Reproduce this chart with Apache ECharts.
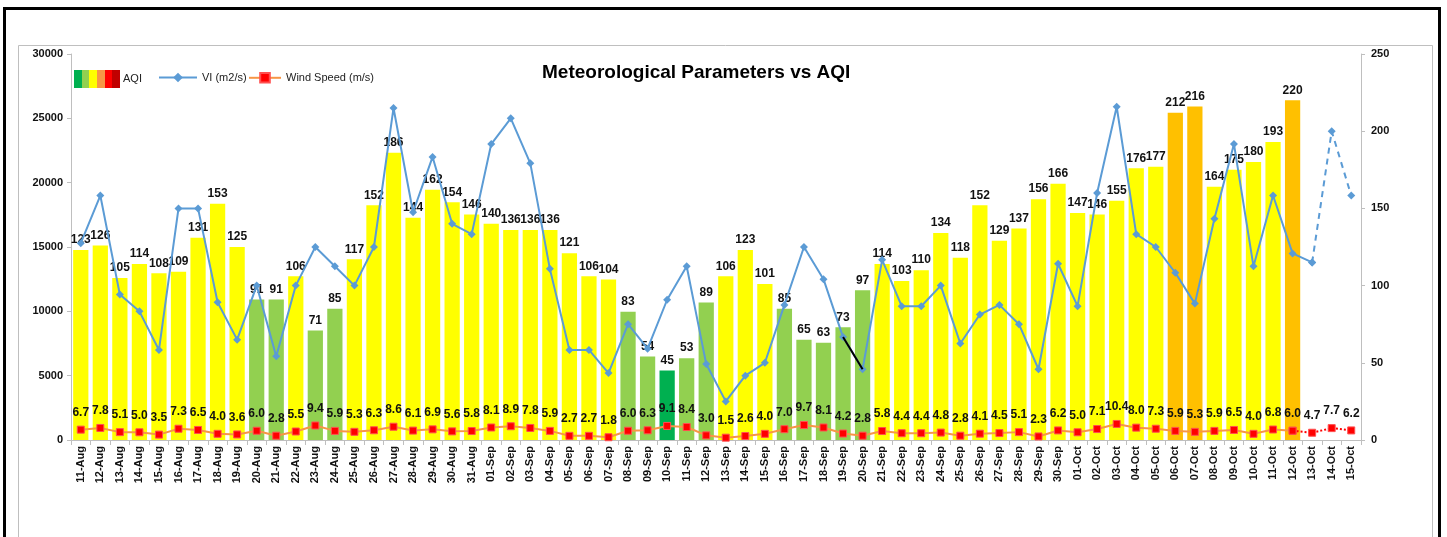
<!DOCTYPE html>
<html>
<head>
<meta charset="utf-8">
<script src="https://cdn.jsdelivr.net/npm/echarts@6/dist/echarts.min.js"></script>
<style>
html,body{margin:0;padding:0;background:#fff;}
#chart{width:1447px;height:537px;}
</style>
</head>
<body>
<div id="chart"></div>
<script>
const categories = [
  '11-Aug','12-Aug','13-Aug','14-Aug','15-Aug','16-Aug','17-Aug','18-Aug','19-Aug','20-Aug','21-Aug',
  '22-Aug','23-Aug','24-Aug','25-Aug','26-Aug','27-Aug','28-Aug','29-Aug','30-Aug','31-Aug',
  '01-Sep','02-Sep','03-Sep','04-Sep','05-Sep','06-Sep','07-Sep','08-Sep','09-Sep','10-Sep',
  '11-Sep','12-Sep','13-Sep','14-Sep','15-Sep','16-Sep','17-Sep','18-Sep','19-Sep','20-Sep',
  '21-Sep','22-Sep','23-Sep','24-Sep','25-Sep','26-Sep','27-Sep','28-Sep','29-Sep','30-Sep',
  '01-Oct','02-Oct','03-Oct','04-Oct','05-Oct','06-Oct','07-Oct','08-Oct','09-Oct','10-Oct',
  '11-Oct','12-Oct','13-Oct','14-Oct','15-Oct'
];
const aqi = [
  123,126,105,114,108,109,131,153,125,91,91,
  106,71,85,117,152,186,144,162,154,146,
  140,136,136,136,121,106,104,83,54,45,
  53,89,106,123,101,85,65,63,73,97,
  114,103,110,134,118,152,129,137,156,166,
  147,146,155,176,177,212,216,164,175,180,
  193,220,null,null,null
];
const vi = [
  15300,19000,11300,10000,7000,18000,18000,10700,7800,12000,6500,
  12000,15000,13500,12000,15000,25800,17700,22000,16800,16000,
  23000,25000,21500,13300,7000,7000,5200,9000,7100,10900,
  13500,5900,3000,5000,6000,10500,15000,12500,8000,5500,
  14000,10400,10400,12000,7500,9750,10500,9000,5500,13700,
  10400,19200,25900,16000,15000,13000,10600,17200,23000,13500,
  19000,14500,13800,24000,19000
];
const wind = [
  6.7,7.8,5.1,5.0,3.5,7.3,6.5,4.0,3.6,6.0,2.8,
  5.5,9.4,5.9,5.3,6.3,8.6,6.1,6.9,5.6,5.8,
  8.1,8.9,7.8,5.9,2.7,2.7,1.8,6.0,6.3,9.1,
  8.4,3.0,1.5,2.6,4.0,7.0,9.7,8.1,4.2,2.8,
  5.8,4.4,4.4,4.8,2.8,4.1,4.5,5.1,2.3,6.2,
  5.0,7.1,10.4,8.0,7.3,5.9,5.3,5.9,6.5,4.0,
  6.8,6.0,4.7,7.7,6.2
];
const viForecastStart = 63;   // 13-Oct
const windForecastStart = 62; // 12-Oct
const blackSegment = [39, 40]; // 19-Sep -> 20-Sep

function aqiColor(v){
  if (v <= 50) return '#00B050';
  if (v <= 100) return '#92D050';
  if (v <= 200) return '#FFFF00';
  if (v <= 300) return '#FFC000';
  return '#FF0000';
}

const chart = echarts.init(document.getElementById('chart'), null, {renderer:'canvas'});
const FONT = '"Liberation Sans", Arial, sans-serif';

const legendGrad = new echarts.graphic.LinearGradient(0,0,1,0,[
  {offset:0, color:'#00B050'},{offset:0.166,color:'#00B050'},
  {offset:0.167,color:'#92D050'},{offset:0.333,color:'#92D050'},
  {offset:0.334,color:'#FFFF00'},{offset:0.5,color:'#FFFF00'},
  {offset:0.501,color:'#F79646'},{offset:0.666,color:'#F79646'},
  {offset:0.667,color:'#FF0000'},{offset:0.833,color:'#FF0000'},
  {offset:0.834,color:'#C00000'},{offset:1,color:'#C00000'}
]);

const option = {
  animation:false,
  backgroundColor:'#fff',
  textStyle:{fontFamily:FONT},
  title:{
    text:'Meteorological Parameters vs AQI',
    left:537, top:58,
    textStyle:{fontFamily:FONT, fontWeight:'bold', fontSize:19, color:'#000'}
  },
  graphic:[
    {type:'rect', shape:{x:4.5,y:8.5,width:1435,height:560}, style:{fill:null, stroke:'#000', lineWidth:3}, silent:true, z:-10},
    {type:'rect', shape:{x:18.5,y:45.5,width:1414,height:560}, style:{fill:null, stroke:'#BFBFBF', lineWidth:1}, silent:true, z:-10}
  ],
  legend:[
    {data:[{name:'AQI', icon:'rect'}], left:69, top:65, itemWidth:46, itemHeight:18, itemGap:4,
     textStyle:{fontFamily:FONT, fontSize:11, color:'#222', padding:[0,0,0,-2]}},
    {data:['VI (m2/s)'], left:153, top:67, itemWidth:38, itemHeight:12,
     textStyle:{fontFamily:FONT, fontSize:11, color:'#222'}},
    {data:['Wind Speed (m/s)'], left:243, top:67, itemWidth:32, itemHeight:12,
     textStyle:{fontFamily:FONT, fontSize:11, color:'#222'}}
  ],
  grid:{left:71, right:86, top:54, bottom:97, containLabel:false},
  xAxis:{
    type:'category', data:categories,
    axisLine:{lineStyle:{color:'#BFBFBF'}},
    axisTick:{show:true, alignWithLabel:false, length:5, lineStyle:{color:'#BFBFBF'}},
    axisLabel:{rotate:90, interval:0, fontFamily:FONT, fontWeight:'bold', fontSize:11, color:'#111', margin:6},
    splitLine:{show:false}
  },
  yAxis:[
    {type:'value', min:0, max:30000, interval:5000, position:'left',
     axisLine:{show:true, lineStyle:{color:'#BFBFBF'}},
     axisTick:{show:true, length:4, lineStyle:{color:'#BFBFBF'}},
     axisLabel:{fontFamily:FONT, fontWeight:'bold', fontSize:11, color:'#111', margin:8,
                formatter:v => String(v)},
     splitLine:{show:false}},
    {type:'value', min:0, max:250, interval:50, position:'right',
     axisLine:{show:true, lineStyle:{color:'#BFBFBF'}},
     axisTick:{show:true, length:4, lineStyle:{color:'#BFBFBF'}},
     axisLabel:{fontFamily:FONT, fontWeight:'bold', fontSize:11, color:'#111', margin:10,
                formatter:v => String(v)},
     splitLine:{show:false}}
  ],
  series:[
    {
      name:'AQI', type:'bar', yAxisIndex:1, barCategoryGap:'22%',
      itemStyle:{color:legendGrad},
      data:aqi.map(v => v == null ? null : {value:v, itemStyle:{color:aqiColor(v)}}),
      label:{show:true, position:'top', distance:4, fontFamily:FONT, fontWeight:'bold', fontSize:12, color:'#111'},
      z:1
    },
    {
      name:'VI (m2/s)', type:'line', yAxisIndex:0,
      data:vi.map((v,i) => i <= viForecastStart ? v : null),
      color:'#5B9BD5',
      lineStyle:{color:'#5B9BD5', width:2},
      itemStyle:{color:'#5B9BD5'},
      symbol:'diamond', symbolSize:8, showAllSymbol:true,
      z:3
    },
    {
      name:'VI forecast', type:'line', yAxisIndex:0,
      data:vi.map((v,i) => i >= viForecastStart ? v : null),
      lineStyle:{color:'#5B9BD5', width:2, type:[6,5]},
      itemStyle:{color:'#5B9BD5'},
      symbol:'diamond', symbolSize:8,
      z:3
    },
    {
      name:'VI segment', type:'line', yAxisIndex:0,
      data:vi.map((v,i) => blackSegment.indexOf(i) >= 0 ? v : null),
      lineStyle:{color:'#000', width:2},
      symbol:'none',
      z:4
    },
    {
      name:'Wind Speed (m/s)', type:'line', yAxisIndex:1,
      data:wind.map((v,i) => i <= windForecastStart ? v : null),
      color:'#F79646',
      lineStyle:{color:'#F79646', width:2},
      itemStyle:{color:'#FF0000', borderColor:'#FF5050', borderWidth:1},
      symbol:'rect', symbolSize:7, showAllSymbol:true,
      label:{show:true, position:'top', distance:7, fontFamily:FONT, fontWeight:'bold', fontSize:12, color:'#111',
             formatter:p => Number(p.value).toFixed(1)},
      z:5
    },
    {
      name:'Wind forecast', type:'line', yAxisIndex:1,
      data:wind.map((v,i) => i >= windForecastStart ? v : null),
      lineStyle:{color:'#FF0000', width:2, type:'dotted'},
      itemStyle:{color:'#FF0000', borderColor:'#FF5050', borderWidth:1},
      symbol:'rect', symbolSize:7, showAllSymbol:true,
      label:{show:true, position:'top', distance:7, fontFamily:FONT, fontWeight:'bold', fontSize:12, color:'#111',
             formatter:p => p.dataIndex > windForecastStart ? Number(p.value).toFixed(1) : ''},
      z:5
    }
  ]
};
chart.setOption(option);
</script>
</body>
</html>
